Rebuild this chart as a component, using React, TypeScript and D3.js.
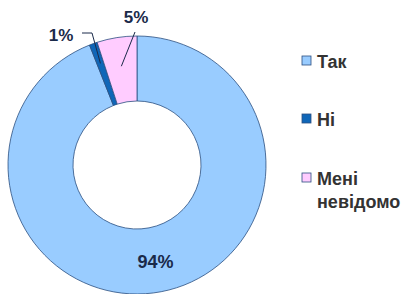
import React from "react";
import * as d3 from "d3";

const categories = ["Так", "Ні", "Мені невідомо"];
const values = [94, 1, 5];
const labels = ["94%", "1%", "5%"];
const colors = ["#99ccff", "#0f66b8", "#ffccff"];

const W = 412;
const H = 294;
const cx = 137;
const cy = 165;
const outerR = 129;
const innerR = 64;
const font = "Liberation Sans, Arial, sans-serif";

const App = () => {
  const pie = d3.pie<number>().sort(null).value((d) => d);
  const arcs = pie(values);
  const arc = d3.arc<d3.PieArcDatum<number>>().innerRadius(innerR).outerRadius(outerR);

  // point on the ring for a slice at a given radius
  const at = (a: d3.PieArcDatum<number>, r: number) => {
    const ang = (a.startAngle + a.endAngle) / 2;
    return [Math.sin(ang) * r, -Math.cos(ang) * r];
  };

  const bigPos = at(arcs[0], 99);
  const pinkIn = at(arcs[2], 100);
  const darkIn = at(arcs[1], 108);

  return (
    <svg width={W} height={H} style={{ position: "absolute", left: 0, top: 0 }}>
      <g transform={`translate(${cx},${cy})`}>
        {arcs.map((a, i) => (
          <path key={i} d={arc(a) || ""} fill={colors[i]} stroke="#2b4f80" strokeWidth={0.8} />
        ))}
        {/* leader for 5% */}
        <polyline
          points={`${pinkIn[0]},${pinkIn[1]} ${-2},${-133}`}
          fill="none"
          stroke="#1a2a4a"
          strokeWidth={1}
        />
        {/* leader for 1% */}
        <polyline
          points={`${-55},${-132} ${-45},${-132} ${darkIn[0]},${darkIn[1]}`}
          fill="none"
          stroke="#1a2a4a"
          strokeWidth={1}
        />
        <text x={bigPos[0]} y={bigPos[1]} textAnchor="middle" dominantBaseline="central"
          fontFamily={font} fontWeight="bold" fontSize={18} fill="#1a2a4a">
          {labels[0]}
        </text>
        <text x={-76} y={-130} textAnchor="middle" dominantBaseline="central"
          fontFamily={font} fontWeight="bold" fontSize={17} fill="#1a2a4a">
          {labels[1]}
        </text>
        <text x={-1} y={-148} textAnchor="middle" dominantBaseline="central"
          fontFamily={font} fontWeight="bold" fontSize={17} fill="#1a2a4a">
          {labels[2]}
        </text>
      </g>
      <g fontFamily={font} fontWeight="bold" fontSize={18} fill="#333">
        {categories.map((c, i) => {
          const base = [68, 126, 185][i];
          const words = i === 2 ? ["Мені", "невідомо"] : [c];
          return (
            <g key={c}>
              <rect x={302} y={base - 12} width={9} height={9} fill={colors[i]} stroke="#2b4f80" strokeWidth={0.8} />
              {words.map((w, j) => (
                <text key={w} x={317} y={base + j * 23}>{w}</text>
              ))}
            </g>
          );
        })}
      </g>
    </svg>
  );
};

export default App;
